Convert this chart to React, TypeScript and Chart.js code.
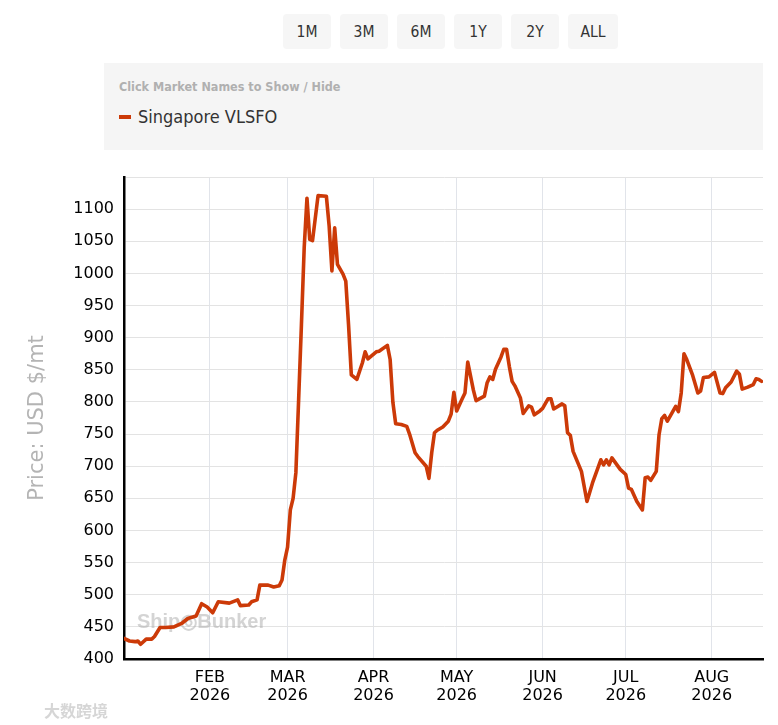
import React, { useEffect, useRef } from "react";
import { Chart, registerables } from "chart.js";

Chart.register(...registerables);

const YEAR = 2026;

// Observation dates (MM-DD, 2026)
const dates: string[] = [
  "01-01", "01-03", "01-05", "01-06", "01-07", "01-09", "01-11", "01-12", "01-14", "01-16",
  "01-19", "01-22", "01-24", "01-27", "01-29", "01-31", "02-02", "02-04", "02-08", "02-11",
  "02-12", "02-15", "02-16", "02-18", "02-19", "02-22", "02-24", "02-26", "02-27", "02-28",
  "03-01", "03-02", "03-03", "03-04", "03-05", "03-06", "03-07", "03-08", "03-09", "03-10",
  "03-12", "03-15", "03-16", "03-17", "03-18", "03-19", "03-21", "03-22", "03-23", "03-24",
  "03-26", "03-28", "03-29", "03-30", "04-02", "04-03", "04-06", "04-07", "04-08", "04-09",
  "04-11", "04-13", "04-14", "04-16", "04-17", "04-20", "04-21", "04-22", "04-23", "04-24",
  "04-26", "04-28", "04-29", "04-30", "05-01", "05-03", "05-04", "05-05", "05-07", "05-08",
  "05-11", "05-12", "05-13", "05-14", "05-15", "05-17", "05-18", "05-19", "05-20", "05-21",
  "05-22", "05-24", "05-25", "05-27", "05-28", "05-29", "05-31", "06-01", "06-03", "06-04",
  "06-05", "06-08", "06-09", "06-10", "06-11", "06-12", "06-15", "06-17", "06-19", "06-22",
  "06-23", "06-24", "06-25", "06-26", "06-29", "07-01", "07-02", "07-03", "07-05", "07-07",
  "07-08", "07-09", "07-10", "07-12", "07-13", "07-14", "07-15", "07-16", "07-19", "07-20",
  "07-21", "07-22", "07-23", "07-25", "07-27", "07-28", "07-29", "07-31", "08-02", "08-04",
  "08-05", "08-06", "08-08", "08-10", "08-11", "08-12", "08-14", "08-16", "08-17", "08-18",
  "08-19",
];

// Singapore VLSFO price, USD/mt
const singaporeVLSFO: number[] = [
  432, 428, 427, 428, 423, 431, 431, 435, 449, 449,
  450, 456, 463, 467, 486, 481, 472, 489, 487, 492,
  483, 484, 489, 492, 515, 515, 512, 514, 523, 554,
  574, 632, 650, 690, 804, 920, 1040, 1117, 1053, 1051,
  1121, 1120, 1074, 1004, 1071, 1014, 999, 988, 920, 842,
  835, 861, 878, 867, 878, 879, 888, 866, 799, 766,
  765, 762, 750, 721, 715, 700, 681, 721, 752, 756,
  761, 770, 781, 815, 786, 805, 814, 862, 819, 802,
  809, 830, 839, 835, 851, 870, 882, 882, 855, 832,
  825, 806, 782, 794, 792, 780, 786, 790, 805, 805,
  789, 797, 794, 752, 748, 723, 692, 645, 674, 710,
  702, 710, 702, 713, 695, 687, 666, 664, 645, 632,
  682, 683, 678, 692, 749, 774, 779, 770, 793, 785,
  814, 875, 866, 843, 814, 817, 838, 839, 846, 814,
  813, 822, 831, 848, 843, 820, 823, 827, 836, 835,
  832,
];

const monthTickDates: string[] = ["02-01", "03-01", "04-01", "05-01", "06-01", "07-01", "08-01"];
const monthTickLabels: string[] = ["FEB", "MAR", "APR", "MAY", "JUN", "JUL", "AUG"];
const xRangeDates: string[] = ["01-01", "08-19"];

const Y_MIN = 400;
const Y_MAX = 1150;
const Y_STEP = 50;

const rangeButtons: string[] = ["1M", "3M", "6M", "1Y", "2Y", "ALL"];
const seriesName = "Singapore VLSFO";
const seriesColor = "#cc3a08";

function dayIndex(md: string): number {
  const [m, d] = md.split("-").map(Number);
  return (Date.UTC(YEAR, m - 1, d) - Date.UTC(YEAR, 0, 1)) / 86400000;
}

const watermarkPlugin = {
  id: "shipWatermark",
  beforeDatasetsDraw(chart: any) {
    const { ctx, chartArea } = chart;
    ctx.save();
    ctx.font = 'bold 20px "Liberation Sans", Arial, sans-serif';
    ctx.fillStyle = "rgba(170,170,170,0.5)";
    ctx.textBaseline = "middle";
    ctx.textAlign = "left";
    ctx.fillText("Ship\u25CEBunker", chartArea.left + 13, chartArea.bottom - 37);
    ctx.restore();
  },
};

function PriceChart() {
  const ref = useRef<HTMLCanvasElement | null>(null);

  useEffect(() => {
    if (!ref.current) return;
    const points = dates.map((d, i) => ({ x: dayIndex(d), y: singaporeVLSFO[i] }));
    const chart = new Chart(ref.current, {
      type: "line",
      data: {
        datasets: [
          {
            label: seriesName,
            data: points,
            borderColor: seriesColor,
            backgroundColor: seriesColor,
            borderWidth: 3.6,
            pointRadius: 0,
            tension: 0,
            borderJoinStyle: "round",
            borderCapStyle: "round",
          },
        ],
      },
      options: {
        animation: false,
        responsive: true,
        maintainAspectRatio: false,
        layout: { padding: { top: 27, right: 15, left: 0, bottom: 0 } },
        plugins: {
          legend: { display: false },
          tooltip: { enabled: false },
        },
        scales: {
          x: {
            type: "linear",
            min: dayIndex(xRangeDates[0]),
            max: dayIndex(xRangeDates[1]) + 0.5,
            afterBuildTicks: (scale: any) => {
              scale.ticks = monthTickDates.map((m) => ({ value: dayIndex(m) }));
            },
            afterFit: (scale: any) => {
              scale.height = 66;
            },
            grid: { color: "#e1e4ea", lineWidth: 1, drawTicks: false },
            border: { display: true, color: "#000", width: 2.5 },
            ticks: {
              autoSkip: false,
              maxRotation: 0,
              padding: 10,
              color: "#000",
              font: { family: '"DejaVu Sans", Verdana, sans-serif', size: 16, lineHeight: 1.12 },
              callback: (_v: any, i: number) => [monthTickLabels[i], String(YEAR)],
            },
          },
          y: {
            min: Y_MIN,
            max: Y_MAX,
            afterFit: (scale: any) => {
              scale.width = 124;
            },
            grid: { color: "#e3e3e3", lineWidth: 1, drawTicks: false },
            border: { display: true, color: "#000", width: 2.5 },
            ticks: {
              stepSize: Y_STEP,
              padding: 10,
              color: "#000",
              font: { family: '"DejaVu Sans", Verdana, sans-serif', size: 16 },
              callback: (v: any) => (Number(v) >= Y_MAX ? "" : String(v)),
            },
            title: {
              display: true,
              text: "Price: USD $/mt",
              color: "#b4b4b4",
              font: { family: '"DejaVu Sans", Verdana, sans-serif', size: 21 },
              padding: { top: 25, bottom: 0 },
            },
          },
        },
      },
      plugins: [watermarkPlugin],
    } as any);
    return () => chart.destroy();
  }, []);

  return <canvas ref={ref} />;
}

export default function App() {
  const condensed = '"DejaVu Sans Condensed", "Liberation Sans Narrow", "DejaVu Sans", sans-serif';
  return (
    <div style={{ position: "absolute", left: 0, top: 0, width: 778, height: 725, background: "#fff", overflow: "hidden" }}>
      <div style={{ position: "absolute", left: 283, top: 14, display: "flex", gap: 9 }}>
        {rangeButtons.map((b) => (
          <div
            key={b}
            style={{
              width: b === "ALL" ? 50 : 48,
              height: 35,
              background: "#f6f6f6",
              borderRadius: 4,
              display: "flex",
              alignItems: "center",
              justifyContent: "center",
              fontFamily: condensed,
              fontSize: 15.5,
              color: "#333",
            }}
          >
            {b}
          </div>
        ))}
      </div>
      <div style={{ position: "absolute", left: 104, top: 63, width: 659, height: 87, background: "#f5f5f5" }}>
        <div
          style={{
            position: "absolute",
            left: 15,
            top: 16,
            fontFamily: condensed,
            fontWeight: "bold",
            fontSize: 12.5,
            color: "#b0b0b0",
          }}
        >
          Click Market Names to Show / Hide
        </div>
        <div style={{ position: "absolute", left: 15, top: 43, display: "flex", alignItems: "center" }}>
          <span style={{ display: "inline-block", width: 12, height: 4, background: seriesColor, marginRight: 7 }} />
          <span style={{ fontFamily: condensed, fontSize: 18, color: "#333" }}>{seriesName}</span>
        </div>
      </div>
      <div style={{ position: "absolute", left: 0, top: 150, width: 778, height: 575 }}>
        <PriceChart />
      </div>
      <div
        style={{
          position: "absolute",
          left: 44,
          top: 698,
          fontFamily: '"Noto Sans CJK SC", sans-serif',
          fontSize: 16,
          color: "#d6d6d6",
          fontWeight: "bold",
        }}
      >
        大数跨境
      </div>
    </div>
  );
}
